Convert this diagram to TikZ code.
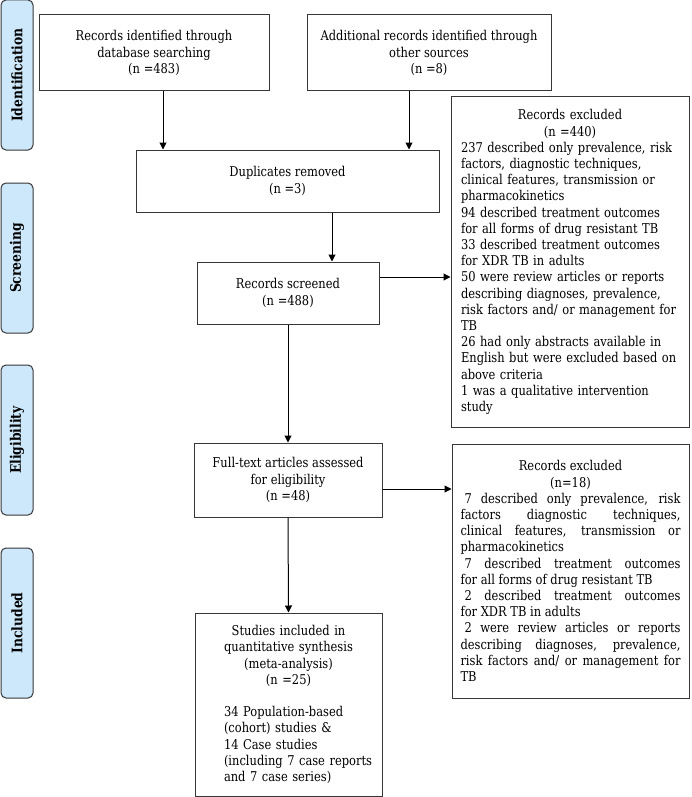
\documentclass[tikz,border=0pt]{standalone}
\usepackage{fontspec}
\setmainfont{DejaVu Serif}[FakeStretch=0.85]
\usetikzlibrary{arrows.meta,calc}
\definecolor{boxcol}{RGB}{55,55,55}
\definecolor{labfill}{RGB}{205,232,250}
\tikzset{
  box/.style={draw=boxcol, line width=1pt, inner sep=0pt, align=center,
    font=\fontsize{13.5}{16.2}\selectfont},
  lab/.style={draw=boxcol, fill=labfill, rounded corners=5pt, rotate=90,
    minimum width=150pt, minimum height=32pt, line width=1pt, inner sep=0pt,
    font=\bfseries\fontsize{14.5}{16}\selectfont},
  arr/.style={-{Triangle[length=7pt,width=7pt]}, line width=1pt, draw=black},
}
\begin{document}
\begin{tikzpicture}[x=1pt,y=-1pt]
\useasboundingbox (0,0) rectangle (691,797);
% side labels
\node[lab] (lid) at (17,75) {Identification};
\node[lab] (lsc) at (17,258) {Screening};
\node[lab] (lel) at (17,440) {Eligibility};
\node[lab] (lin) at (17,623) {Included};
% boxes
\node[box, minimum width=230pt, minimum height=76pt] (b1) at (154,53)
  {Records identified through\\database searching\\(n =483)};
\node[box, minimum width=244pt, minimum height=76pt] (b2) at (429,53)
  {Additional records identified through\\other sources\\(n =8)};
\node[box, minimum width=303pt, minimum height=62pt] (dup) at (287.5,181)
  {Duplicates removed\\(n =3)};
\node[box, minimum width=182pt, minimum height=62pt] (scr) at (288,293)
  {Records screened\\(n =488)};
\node[box, minimum width=238pt, minimum height=330pt, text width=218pt, align=left] (ex1) at (570,262)
  {{\centering Records excluded\\(n =440)\par}
   237 described only prevalence, risk\\
   factors, diagnostic techniques,\\
   clinical features, transmission or\\
   pharmacokinetics\\
   94 described treatment outcomes\\
   for all forms of drug resistant TB\\
   33 described treatment outcomes\\
   for XDR TB in adults\\
   50 were review articles or reports\\
   describing diagnoses, prevalence,\\
   risk factors and/ or management for\\
   TB\\
   26 had only abstracts available in\\
   English but were excluded based on\\
   above criteria\\
   1 was a qualitative intervention\\
   study};
\node[box, minimum width=188pt, minimum height=74pt] (ft) at (288,480)
  {Full-text articles assessed\\for eligibility\\(n =48)};
\node[box, minimum width=237pt, minimum height=254pt, text width=220pt, align=justify] (ex2) at (570.5,571)
  {{\centering Records excluded\\(n=18)\par}
   \hspace*{4pt}7 described only prevalence, risk\linebreak
   factors diagnostic techniques,\linebreak
   clinical features, transmission or\linebreak
   pharmacokinetics\par
   \hspace*{4pt}7 described treatment outcomes\linebreak
   for all forms of drug resistant TB\par
   \hspace*{4pt}2 described treatment outcomes\linebreak
   for XDR TB in adults\par
   \hspace*{4pt}2 were review articles or reports\linebreak
   describing diagnoses, prevalence,\linebreak
   risk factors and/ or management for\linebreak
   TB};
\node[box, minimum width=187pt, minimum height=183pt, text width=179pt, align=left] (st) at (288.5,704.5)
  {\hyphenpenalty=10000
   \makebox[179pt]{Studies included in}\\
   \makebox[179pt]{quantitative synthesis}\\
   \makebox[179pt]{(meta-analysis)}\\
   \makebox[179pt]{(n =25)}\\[16.2pt]
   \hspace*{25pt}34 Population-based\\
   \hspace*{25pt}(cohort) studies \&\\
   \hspace*{25pt}14 Case studies\\
   \hspace*{25pt}\mbox{(including 7 case reports}\\
   \hspace*{25pt}and 7 case series)};
% connectors
\draw[arr] ([xshift=9pt]b1.south) -- ([xshift=9pt]b1.south |- dup.north);
\draw[arr] ([xshift=-20pt]b2.south) -- ([xshift=-20pt]b2.south |- dup.north);
\draw[arr] ([xshift=44.5pt]dup.south) -- ([xshift=44.5pt]dup.south |- scr.north);
\draw[arr] ([yshift=16pt]scr.east) -- ([yshift=16pt]scr.east -| ex1.west);
\draw[arr] (scr.south) -- (ft.north);
\draw[arr] ([yshift=-9pt]ft.east) -- ([yshift=-9pt]ft.east -| ex2.west);
\draw[arr] (ft.south) -- (st.north);
\end{tikzpicture}
\end{document}
